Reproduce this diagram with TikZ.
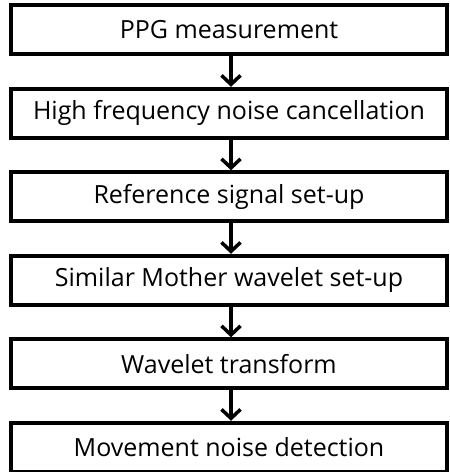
\documentclass[tikz,border=0pt]{standalone}
\usepackage{fontspec}
\setmainfont{Open Sans}
\usetikzlibrary{positioning,arrows.meta}

\tikzset{
	stepnode/.style={draw=black, line width=4pt, minimum width=436pt, minimum height=49pt, inner sep=0pt, font=\fontsize{25}{28}\selectfont},
	flowarrow/.style={line width=3.5pt, -{Straight Barb[length=9pt,width=19pt,line width=3.5pt]}}
}

\begin{document}
\begin{tikzpicture}[x=1pt, y=1pt, node distance=30.5pt]
		%%%%% START %%%%%
		
		\useasboundingbox (0, 0) rectangle (450, -472);
		
		\node[stepnode] (ppg) at (229, -29.8) {PPG measurement};
		\node[stepnode, below=of ppg] (hfnc) {High frequency noise cancellation};
		\node[stepnode, below=of hfnc] (ref) {Reference signal set-up};
		\node[stepnode, below=of ref] (mother) {Similar Mother wavelet set-up};
		\node[stepnode, below=of mother] (wt) {Wavelet transform};
		\node[stepnode, below=of wt] (detect) {Movement noise detection};
		
		\draw[flowarrow] ([xshift=2pt]ppg.south) -- ([xshift=2pt]hfnc.north);
		\draw[flowarrow] ([xshift=2pt]hfnc.south) -- ([xshift=2pt]ref.north);
		\draw[flowarrow] ([xshift=2pt]ref.south) -- ([xshift=2pt]mother.north);
		\draw[flowarrow] ([xshift=2pt]mother.south) -- ([xshift=2pt]wt.north);
		\draw[flowarrow] ([xshift=2pt]wt.south) -- ([xshift=2pt]detect.north);
		
		%%%%% END %%%%%
	\end{tikzpicture}
\end{document}
